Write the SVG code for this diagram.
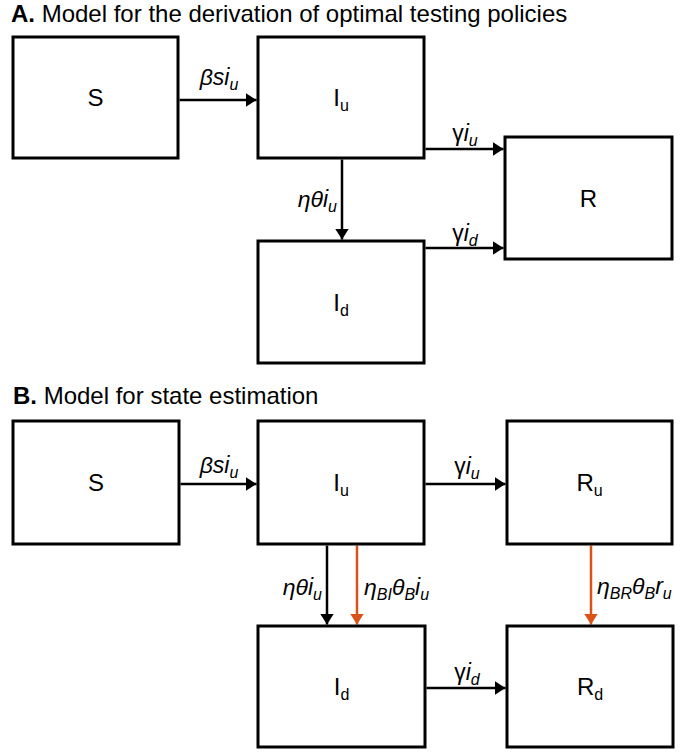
<svg xmlns="http://www.w3.org/2000/svg" width="682" height="752" viewBox="0 0 682 752">
<style>
.box{fill:#fff;stroke:#000;stroke-width:3}
.lbl{font-family:"Liberation Sans",Arial,sans-serif;font-size:24px;fill:#000;text-anchor:middle}
.el{font-family:"Liberation Sans",Arial,sans-serif;font-size:23px;font-style:italic;fill:#000}
.up{font-style:normal}
.sub{font-size:16px}
.ttl{font-family:"Liberation Sans",Arial,sans-serif;font-size:24px;fill:#000}
.blk{stroke:#000;stroke-width:2.5;fill:none}
.org{stroke:#D95319;stroke-width:2.5;fill:none}
</style>
<defs>
<marker id="ab" viewBox="0 0 11 14" refX="11" refY="7" markerWidth="11" markerHeight="14" markerUnits="userSpaceOnUse" orient="auto"><path d="M0,0 L11,7 L0,14 z" fill="#000"/></marker>
<marker id="ao" viewBox="0 0 11 14" refX="11" refY="7" markerWidth="11" markerHeight="14" markerUnits="userSpaceOnUse" orient="auto"><path d="M0,0 L11,7 L0,14 z" fill="#D95319"/></marker>
</defs>

<text class="ttl" x="11" y="22"><tspan font-weight="bold">A.</tspan> Model for the derivation of optimal testing policies</text>
<text class="ttl" x="13" y="404"><tspan font-weight="bold">B.</tspan> Model for state estimation</text>

<g id="connectors">
<line class="blk" x1="179.5" y1="100" x2="256.5" y2="100" marker-end="url(#ab)"/>
<line class="blk" x1="342" y1="159.5" x2="342" y2="239.5" marker-end="url(#ab)"/>
<line class="blk" x1="425.5" y1="149" x2="503.5" y2="149" marker-end="url(#ab)"/>
<line class="blk" x1="425.5" y1="248" x2="503.5" y2="248" marker-end="url(#ab)"/>
<line class="blk" x1="180.5" y1="484" x2="256.5" y2="484" marker-end="url(#ab)"/>
<line class="blk" x1="425.5" y1="484" x2="505.5" y2="484" marker-end="url(#ab)"/>
<line class="blk" x1="327" y1="545.5" x2="327" y2="624.5" marker-end="url(#ab)"/>
<line class="org" x1="357" y1="545.5" x2="357" y2="624.5" marker-end="url(#ao)"/>
<line class="org" x1="591" y1="545.5" x2="591" y2="624.5" marker-end="url(#ao)"/>
<line class="blk" x1="426.5" y1="688" x2="505.5" y2="688" marker-end="url(#ab)"/>

<text class="el" x="219" y="85" text-anchor="middle">βsi<tspan class="sub" dy="5">u</tspan></text>
<text class="el" x="337" y="207" text-anchor="end">ηθi<tspan class="sub" dy="5">u</tspan></text>
<text class="el" x="465" y="141" text-anchor="middle"><tspan class="up">γ</tspan>i<tspan class="sub" dy="5">u</tspan></text>
<text class="el" x="465" y="241" text-anchor="middle"><tspan class="up">γ</tspan>i<tspan class="sub" dy="5">d</tspan></text>
<text class="el" x="219" y="473" text-anchor="middle">βsi<tspan class="sub" dy="5">u</tspan></text>
<text class="el" x="467" y="474" text-anchor="middle"><tspan class="up">γ</tspan>i<tspan class="sub" dy="5">u</tspan></text>
<text class="el" x="322" y="595" text-anchor="end">ηθi<tspan class="sub" dy="5">u</tspan></text>
<text class="el" x="364" y="595">η<tspan class="sub" dy="5">BI</tspan><tspan dy="-5">θ</tspan><tspan class="sub" dy="5">B</tspan><tspan dy="-5">i</tspan><tspan class="sub" dy="5">u</tspan></text>
<text class="el" x="597" y="594">η<tspan class="sub" dy="5">BR</tspan><tspan dy="-5">θ</tspan><tspan class="sub" dy="5">B</tspan><tspan dy="-5">r</tspan><tspan class="sub" dy="5">u</tspan></text>
<text class="el" x="467" y="680" text-anchor="middle"><tspan class="up">γ</tspan>i<tspan class="sub" dy="5">d</tspan></text>
</g>

<g id="A-S"><rect class="box" x="13" y="37" width="165" height="121"/><text class="lbl" x="95.5" y="106">S</text></g>
<g id="A-Iu"><rect class="box" x="258" y="37" width="166" height="121"/><text class="lbl" x="341" y="106">I<tspan class="sub" dy="5">u</tspan></text></g>
<g id="A-R"><rect class="box" x="505" y="137" width="167" height="122"/><text class="lbl" x="588.5" y="206.5">R</text></g>
<g id="A-Id"><rect class="box" x="258" y="241" width="166" height="122"/><text class="lbl" x="341" y="310.5">I<tspan class="sub" dy="5">d</tspan></text></g>

<g id="B-S"><rect class="box" x="13" y="421" width="166" height="123"/><text class="lbl" x="96" y="491">S</text></g>
<g id="B-Iu"><rect class="box" x="258" y="421" width="166" height="123"/><text class="lbl" x="341" y="491">I<tspan class="sub" dy="5">u</tspan></text></g>
<g id="B-Ru"><rect class="box" x="507" y="421" width="165" height="123"/><text class="lbl" x="589.5" y="491">R<tspan class="sub" dy="5">u</tspan></text></g>
<g id="B-Id"><rect class="box" x="258" y="626" width="167" height="121"/><text class="lbl" x="341.5" y="695">I<tspan class="sub" dy="5">d</tspan></text></g>
<g id="B-Rd"><rect class="box" x="507" y="626" width="166" height="121"/><text class="lbl" x="590" y="695">R<tspan class="sub" dy="5">d</tspan></text></g>
</svg>
